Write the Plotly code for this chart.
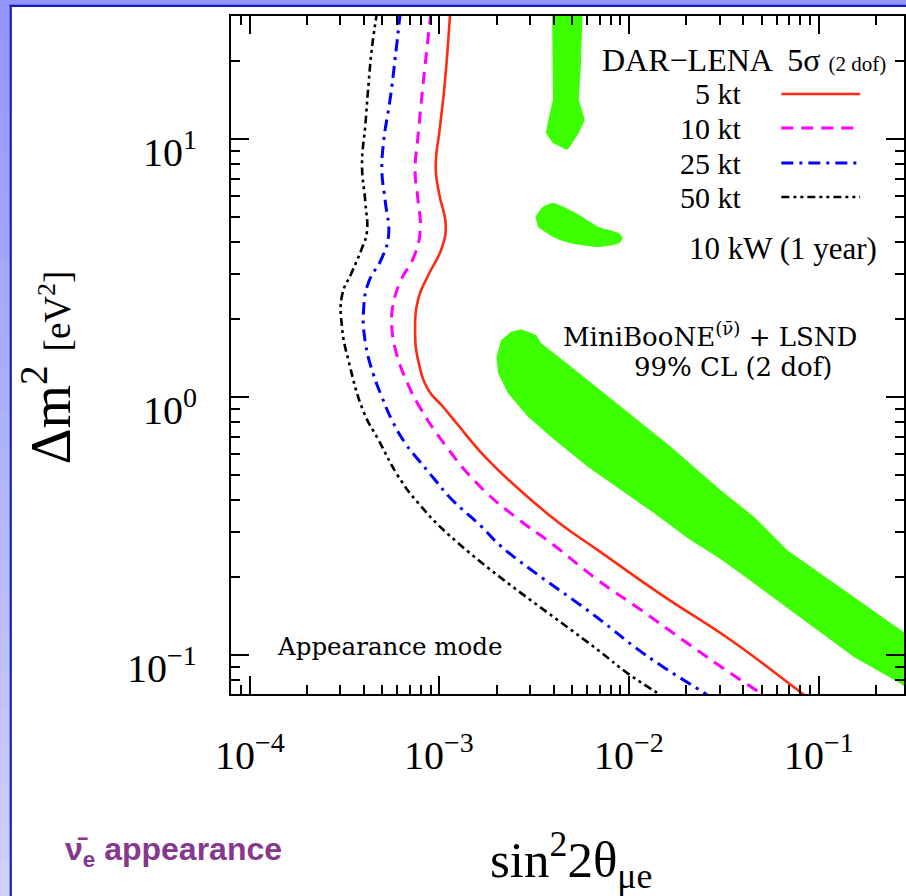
import math
import plotly.graph_objects as go

# ---------------- data ----------------
# DAR-LENA 5 sigma sensitivity curves, sin^2(2theta) vs Delta m^2
kt5_x = [1.14e-3, 1.07e-3, 1.01e-3, 9.56e-4, 1.0e-3, 1.08e-3, 1.03e-3, 8.75e-4, 7.76e-4, 7.45e-4,
         7.76e-4, 8.75e-4, 1.037e-3, 1.233e-3, 1.738e-3, 2.654e-3, 4.30e-3, 6.84e-3, 1.532e-2,
         3.43e-2, 8.16e-2, 8.88e-2]
kt5_y = [31, 16.7, 11.3, 7.72, 6.07, 4.64, 3.78, 2.97, 2.42, 1.79,
         1.37, 1.064, 0.923, 0.791, 0.587, 0.436, 0.324, 0.255, 0.1683,
         0.1143, 0.0711, 0.0681]

kt10_x = [9.05e-4, 8.41e-4, 7.76e-4, 7.45e-4, 7.69e-4, 7.92e-4, 7.30e-4, 6.22e-4, 5.66e-4, 5.62e-4,
          5.97e-4, 6.87e-4, 7.76e-4, 1.071e-3, 1.668e-3, 2.60e-3, 3.89e-3, 6.84e-3, 1.155e-2,
          2.03e-2, 3.43e-2, 4.93e-2, 5.35e-2]
kt10_y = [31, 19.4, 10.7, 7.47, 5.91, 4.37, 3.46, 2.80, 2.21, 1.85,
          1.455, 1.11, 0.931, 0.652, 0.444, 0.3366, 0.271, 0.1953, 0.1494,
          0.111, 0.0849, 0.0711, 0.0681]

kt25_x = [6.22e-4, 5.85e-4, 5.51e-4, 5.08e-4, 4.98e-4, 5.19e-4, 5.40e-4, 4.98e-4, 4.24e-4, 3.99e-4,
          4.07e-4, 4.50e-4, 4.98e-4, 5.62e-4, 6.60e-4, 7.76e-4, 9.49e-4, 1.156e-3, 1.668e-3,
          2.125e-3, 6.84e-3, 1.07e-2, 1.538e-2, 2.495e-2, 2.715e-2]
kt25_y = [31, 20.6, 14.4, 9.74, 7.45, 5.70, 4.25, 3.46, 2.79, 2.21,
          1.63, 1.217, 1.0, 0.814, 0.663, 0.570, 0.477, 0.4025, 0.3144,
          0.263, 0.1391, 0.1074, 0.0891, 0.0712, 0.0681]

kt50_x = [4.69e-4, 4.41e-4, 4.24e-4, 4.07e-4, 3.91e-4, 4.07e-4, 4.15e-4, 3.91e-4, 3.46e-4, 3.07e-4,
          3.07e-4, 3.33e-4, 3.99e-4, 4.78e-4, 6.09e-4, 7.76e-4, 1.258e-3, 6.84e-3, 9.83e-3,
          1.413e-2, 1.538e-2]
kt50_y = [31, 22.5, 16.6, 11.3, 7.93, 5.70, 4.36, 3.78, 3.05, 2.48,
          1.85, 1.37, 0.875, 0.681, 0.491, 0.387, 0.271, 0.1046, 0.0849,
          0.0711, 0.0681]

# MiniBooNE + LSND 99% CL allowed regions (closed contours)
mb_top_x = [3.92e-3, 3.97e-3, 3.97e-3, 3.82e-3, 3.64e-3, 3.97e-3, 4.69e-3,
            4.87e-3, 5.43e-3, 5.84e-3, 5.63e-3, 5.43e-3, 5.56e-3, 5.70e-3]
mb_top_y = [33, 19.0, 14.2, 12.6, 10.55, 9.65, 9.07,
            9.31, 10.55, 11.85, 12.95, 14.2, 19.0, 33]

mb_mid_x = [3.21e-3, 3.51e-3, 3.97e-3, 5.24e-3, 6.92e-3, 8.81e-3, 9.24e-3,
            8.91e-3, 6.92e-3, 4.87e-3, 3.97e-3, 3.31e-3]
mb_mid_y = [5.00, 5.45, 5.65, 5.17, 4.56, 4.32, 4.13,
            3.95, 3.81, 3.95, 4.17, 4.56]

mb_band_x = [2.00e-3, 2.12e-3, 2.39e-3, 2.70e-3, 3.24e-3, 3.44e-3, 4.95e-3, 7.41e-3, 1.108e-2,
             1.66e-2, 3.03e-2, 4.55e-2, 6.80e-2, 0.1017, 0.1523, 0.2677, 0.417,
             0.417, 0.2677, 0.1523, 0.1017, 0.068, 4.55e-2, 3.03e-2, 2.03e-2, 1.357e-2,
             9.06e-3, 6.05e-3, 4.05e-3, 2.93e-3, 2.30e-3, 2.04e-3]
mb_band_y = [1.433, 1.663, 1.791, 1.830, 1.739, 1.615, 1.310, 1.033, 0.814,
             0.642, 0.436, 0.3436, 0.255, 0.2073, 0.1683, 0.125, 0.100,
             0.0612, 0.0777, 0.0985, 0.1228, 0.1535, 0.1896, 0.2355, 0.284, 0.354,
             0.436, 0.537, 0.681, 0.839, 1.033, 1.236]

# tick labels
xtick_vals = [1e-4, 1e-3, 1e-2, 1e-1]
xtick_text = ["10<sup>\u22124</sup>", "10<sup>\u22123</sup>", "10<sup>\u22122</sup>", "10<sup>\u22121</sup>"]
ytick_vals = [0.1, 1, 10]
ytick_text = ["10<sup>\u22121</sup>", "10<sup>0</sup>", "10<sup>1</sup>"]

legend_labels = ["5 kt", "10 kt", "25 kt", "50 kt"]

# ---------------- styling ----------------
W, H = 906, 896
PL, PR, PT, PB = 231, 906, 16, 694
XR = [-4.0983, -0.5512]
YR = [-1.1512, 1.4767]
SERIF = "Liberation Serif"
SERIF2 = "DejaVu Serif"
GREEN = "#3cff00"

def px(x):
    return (x - PL) / (PR - PL)

def py(y):
    return (PB - y) / (PB - PT)

curve_styles = [
    dict(color="#ff2a10", width=2.6, dash="solid"),
    dict(color="#ff00ff", width=3.0, dash="12px,8px"),
    dict(color="#0000ff", width=3.0, dash="12px,6px,3px,6px"),
    dict(color="#000000", width=2.6, dash="8px,4px,3px,4px,3px,4px"),
]

fig = go.Figure()

for (rx, ry), shp in [((mb_top_x, mb_top_y), "linear"), ((mb_mid_x, mb_mid_y), "spline"),
                      ((mb_band_x, mb_band_y), "linear")]:
    fig.add_trace(go.Scatter(x=rx, y=ry, mode="lines", fill="toself", fillcolor=GREEN,
                             line=dict(width=0, color=GREEN, shape=shp, smoothing=0.6),
                             hoverinfo="skip", showlegend=False))

for (cx, cy), st, name in zip([(kt5_x, kt5_y), (kt10_x, kt10_y), (kt25_x, kt25_y), (kt50_x, kt50_y)],
                              curve_styles, legend_labels):
    fig.add_trace(go.Scatter(x=cx, y=cy, mode="lines", name=name,
                             line=dict(color=st["color"], width=st["width"], dash=st["dash"],
                                       shape="spline", smoothing=1.3),
                             showlegend=False))

def minor_vals(lo, hi):
    out = []
    for k in range(lo, hi + 1):
        for m in range(2, 10):
            out.append(m * 10.0 ** k)
    return out

axis_common = dict(type="log", showline=True, linecolor="black", linewidth=2, mirror="ticks",
                   ticks="inside", ticklen=18, tickwidth=1.5, tickcolor="black",
                   showticklabels=False, showgrid=False, zeroline=False, tickmode="array")

fig.update_xaxes(range=XR, tickvals=xtick_vals,
                 minor=dict(tickmode="array", tickvals=minor_vals(-5, 0), ticks="inside",
                            ticklen=9, tickwidth=1.5, tickcolor="black", showgrid=False),
                 **axis_common)
fig.update_yaxes(range=YR, tickvals=ytick_vals,
                 minor=dict(tickmode="array", tickvals=minor_vals(-2, 1), ticks="inside",
                            ticklen=9, tickwidth=1.5, tickcolor="black", showgrid=False),
                 **axis_common)

def note(x, y, text, size, family=SERIF, color="black", xanchor="center", yanchor="middle",
         xref="paper", yref="paper", **kw):
    d = dict(x=x, y=y, xref=xref, yref=yref, text=text, showarrow=False,
             xanchor=xanchor, yanchor=yanchor, font=dict(family=family, size=size, color=color))
    d.update(kw)
    return d

ann = []
for v, t in zip(xtick_vals, xtick_text):
    ann.append(note(math.log10(v), py(752), t, 40, xref="x"))
for v, t in zip(ytick_vals, ytick_text):
    ann.append(note(px(199), math.log10(v), t, 40, xanchor="right", yref="y", yshift=-11))

# axis titles
ann.append(note(px(46), py(368),
                "\u0394m<sup>2</sup> <span style='font-size:37px'>[eV<sup>2</sup>]</span>",
                56, textangle=-90))
ann.append(note(px(572), py(860), "sin<sup>2</sup>2\u03b8<sub>\u03bce</sub>", 51))

# legend block
ann.append(note(px(890), py(60),
                "DAR\u2212LENA  5\u03c3 <span style='font-size:21px'>(2 dof)</span>",
                32, xanchor="right"))
legend_y = [94, 128, 163, 197]
for lab, ly in zip(legend_labels, legend_y):
    ann.append(note(px(746), py(ly), lab, 30, xanchor="right"))
ann.append(note(px(785), py(248), "10 kW (1 year)", 31))

ann.append(note(px(711), py(335), "MiniBooNE<sup>(\u03bd\u0304)</sup> + LSND", 26, family=SERIF2))
ann.append(note(px(735), py(367), "99% CL (2 dof)", 26, family=SERIF2))
ann.append(note(px(275), py(646), "Appearance mode", 24.5, family=SERIF2, xanchor="left"))

ann.append(note(px(62), py(851), "<b>\u03bd\u0304<sub>e</sub> appearance</b>", 32,
                family="Liberation Sans", color="#86378e", xanchor="left"))

shapes = []
# legend line samples
for ly, st in zip(legend_y, curve_styles):
    shapes.append(dict(type="line", xref="paper", yref="paper", x0=px(783), x1=px(862),
                       y0=py(ly), y1=py(ly),
                       line=dict(color=st["color"], width=st["width"], dash=st["dash"])))

# slide frame: gradient left strip, top strip, dark blue rules
n = 24
c0 = (146, 150, 255)
c1 = (206, 208, 255)
for i in range(n):
    t = i / (n - 1)
    col = "rgb(%d,%d,%d)" % tuple(int(round(a + (b - a) * t)) for a, b in zip(c0, c1))
    shapes.append(dict(type="rect", xref="paper", yref="paper", x0=px(-2), x1=px(9.5),
                       y0=py(H * (i + 1) / n + 1), y1=py(H * i / n), line=dict(width=0), fillcolor=col))
shapes.append(dict(type="rect", xref="paper", yref="paper", x0=px(-2), x1=px(W + 2),
                   y0=py(5), y1=py(-2), line=dict(width=0), fillcolor="rgb(146,150,255)"))
shapes.append(dict(type="rect", xref="paper", yref="paper", x0=px(9), x1=px(11.2),
                   y0=py(H + 2), y1=py(4.7), line=dict(width=0), fillcolor="#1521b3"))
shapes.append(dict(type="rect", xref="paper", yref="paper", x0=px(9), x1=px(W + 2),
                   y0=py(6.9), y1=py(4.7), line=dict(width=0), fillcolor="#1521b3"))

fig.update_layout(width=W, height=H, margin=dict(l=PL, r=W - PR, t=PT, b=H - PB, pad=0),
                  paper_bgcolor="white", plot_bgcolor="white", showlegend=False,
                  annotations=ann, shapes=shapes,
                  font=dict(family=SERIF, color="black"))

fig.write_html("out.html", config={"displayModeBar": False},
               post_script="document.body.style.margin='0px';document.body.style.padding='0px';"
                           "document.body.style.overflow='hidden';")
